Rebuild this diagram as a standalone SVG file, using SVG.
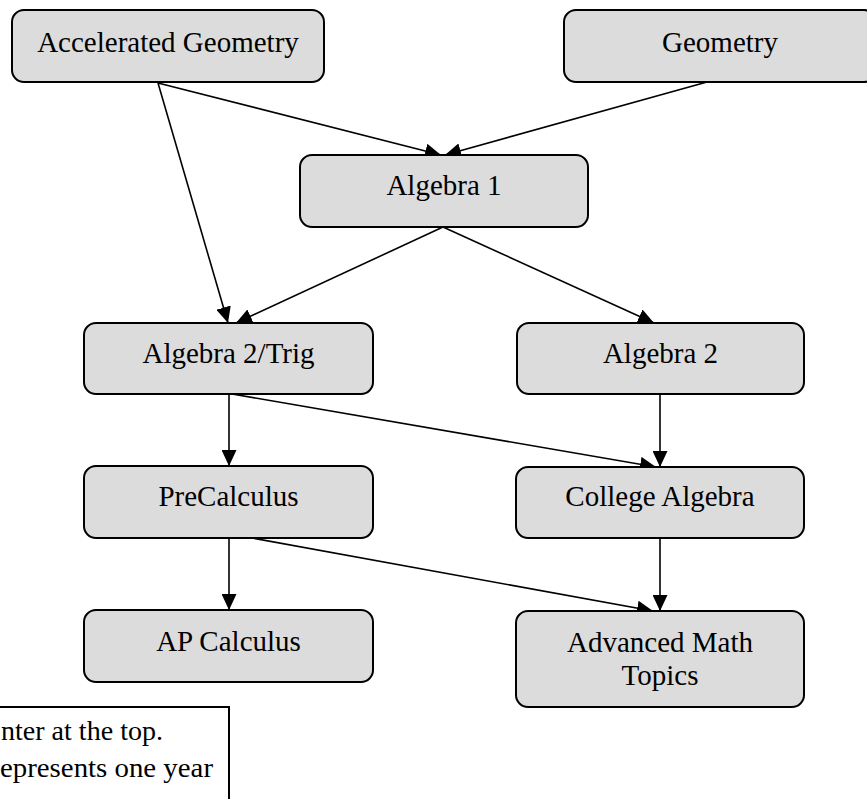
<svg xmlns="http://www.w3.org/2000/svg" width="867" height="799" viewBox="0 0 867 799">
<style>
  .node rect { fill: #dcdcdc; stroke: #000; stroke-width: 2; }
  .node text, .note text { font-family: "Liberation Serif", "Times New Roman", serif; font-size: 29px; fill: #000; text-anchor: middle; }
  .note rect { fill: #fff; stroke: #000; stroke-width: 2; }
  .note text { font-size: 28px; text-anchor: start; }
  .edges line { stroke: #000; stroke-width: 1.6; marker-end: url(#arrow); }
</style>
<defs>
  <marker id="arrow" markerUnits="userSpaceOnUse" markerWidth="16" markerHeight="15" refX="16" refY="7.5" orient="auto">
    <path d="M0,0 L16,7.5 L0,15 z" fill="#000"/>
  </marker>
</defs>
<rect x="0" y="0" width="867" height="799" fill="#fff"/>

<g class="edges">
  <line x1="158" y1="83" x2="441" y2="155"/>
  <line x1="707" y1="82" x2="445" y2="155"/>
  <line x1="158" y1="83" x2="228" y2="323"/>
  <line x1="443" y1="227" x2="236" y2="323"/>
  <line x1="443" y1="227" x2="654" y2="323"/>
  <line x1="229" y1="394" x2="229" y2="466"/>
  <line x1="232" y1="394" x2="656" y2="467"/>
  <line x1="660" y1="394" x2="660" y2="467"/>
  <line x1="229" y1="538" x2="229" y2="610"/>
  <line x1="252" y1="538" x2="653" y2="611"/>
  <line x1="660" y1="538" x2="660" y2="611"/>
</g>

<g id="accelerated-geometry" class="node">
  <rect x="12" y="10" width="312" height="72" rx="12"/>
  <text x="168" y="52">Accelerated Geometry</text>
</g>
<g id="geometry" class="node">
  <rect x="564" y="10" width="312" height="72" rx="12"/>
  <text x="720" y="52">Geometry</text>
</g>
<g id="algebra-1" class="node">
  <rect x="300" y="155" width="288" height="72" rx="12"/>
  <text x="444" y="195">Algebra 1</text>
</g>
<g id="algebra-2-trig" class="node">
  <rect x="84" y="323" width="289" height="71" rx="12"/>
  <text x="228.5" y="363">Algebra 2/Trig</text>
</g>
<g id="algebra-2" class="node">
  <rect x="517" y="323" width="287" height="71" rx="12"/>
  <text x="660.5" y="363">Algebra 2</text>
</g>
<g id="precalculus" class="node">
  <rect x="84" y="466" width="289" height="72" rx="12"/>
  <text x="228.5" y="506">PreCalculus</text>
</g>
<g id="college-algebra" class="node">
  <rect x="516" y="467" width="288" height="71" rx="12"/>
  <text x="660" y="506">College Algebra</text>
</g>
<g id="ap-calculus" class="node">
  <rect x="84" y="610" width="289" height="72" rx="12"/>
  <text x="228.5" y="651">AP Calculus</text>
</g>
<g id="advanced-math-topics" class="node">
  <rect x="516" y="611" width="288" height="96" rx="12"/>
  <text x="660" y="652">Advanced Math</text>
  <text x="660" y="685">Topics</text>
</g>

<g id="note" class="note">
  <rect x="-10" y="707" width="239" height="110"/>
  <text x="1" y="740" textLength="162" lengthAdjust="spacingAndGlyphs">nter at the top.</text>
  <text x="0" y="777" textLength="213" lengthAdjust="spacingAndGlyphs">epresents one year</text>
</g>
</svg>
